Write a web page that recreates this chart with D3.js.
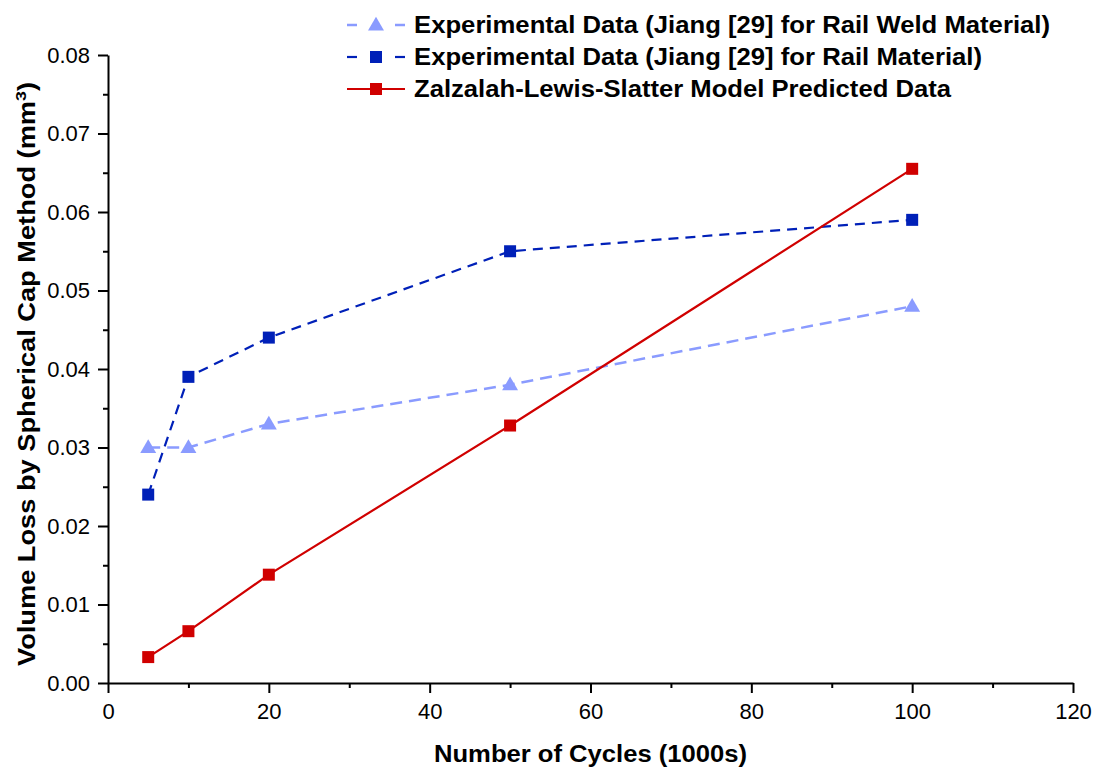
<!DOCTYPE html>
<html>
<head>
<meta charset="utf-8">
<script src="https://cdn.jsdelivr.net/npm/d3@7"></script>
<style>
  body { margin: 0; background: #fff; }
  text { font-family: "Liberation Sans", Arial, sans-serif; }
</style>
</head>
<body>
<div id="chart"></div>
<script>
const cycles = [5, 10, 20, 50, 100];
const weldLoss = [0.030, 0.030, 0.033, 0.038, 0.048];
const railLoss = [0.024, 0.039, 0.044, 0.055, 0.059];
const modelLoss = [0.0033, 0.0066, 0.0138, 0.0328, 0.0655];
const xTicks = [0, 20, 40, 60, 80, 100, 120];
const yTicks = [0, 0.01, 0.02, 0.03, 0.04, 0.05, 0.06, 0.07, 0.08];

const series = [
  { name: "Experimental Data (Jiang [29] for Rail Weld Material)", values: weldLoss, color: "#8a9bff", dash: "12,7", shape: "triangle", width: 2.5, len: 636 },
  { name: "Experimental Data (Jiang [29] for Rail Material)", values: railLoss, color: "#0020b8", dash: "10,7", shape: "square", width: 2.2, len: 568 },
  { name: "Zalzalah-Lewis-Slatter Model Predicted Data", values: modelLoss, color: "#d00000", dash: null, shape: "square", width: 2.2, len: 537 }
];

const W = 1099, H = 768;
const margin = { top: 55, right: 26, bottom: 85, left: 108 };
const width = W - margin.left - margin.right,
  height = H - margin.top - margin.bottom;

const svg = d3.select("#chart").append("svg")
  .attr("width", W).attr("height", H);

const g = svg.append("g")
  .attr("transform", `translate(${margin.left},${margin.top})`);

const x = d3.scaleLinear().domain([0, 120]).range([0, width]);
const y = d3.scaleLinear().domain([0, 0.08]).range([height, 0]);

// minor ticks
const xMinor = d3.range(10, 120, 20);
const yMinor = d3.range(0.005, 0.08, 0.01);

g.append("g")
  .attr("transform", `translate(0,${height})`)
  .call(d3.axisBottom(x).tickValues(xMinor).tickSize(5).tickFormat(""))
  .call(a => a.select(".domain").remove())
  .selectAll("line").attr("stroke-width", 2);

g.append("g")
  .call(d3.axisLeft(y).tickValues(yMinor).tickSize(5).tickFormat(""))
  .call(a => a.select(".domain").remove())
  .selectAll("line").attr("stroke-width", 2);

const xAxis = g.append("g")
  .attr("transform", `translate(0,${height})`)
  .call(d3.axisBottom(x).tickValues(xTicks).tickSize(10).tickSizeOuter(0).tickPadding(10));
xAxis.select(".domain").attr("stroke-width", 2);
xAxis.selectAll("line").attr("stroke-width", 2);
xAxis.selectAll("text").style("font-size", "22px").attr("fill", "#000");

const yAxis = g.append("g")
  .call(d3.axisLeft(y).tickValues(yTicks).tickSize(10).tickSizeOuter(0).tickPadding(8).tickFormat(d3.format(".2f")));
yAxis.select(".domain").attr("stroke-width", 2);
yAxis.selectAll("line").attr("stroke-width", 2);
yAxis.selectAll("text").style("font-size", "22px").attr("fill", "#000");

// axis titles
g.append("text")
  .attr("x", x(60))
  .attr("y", height + 79)
  .attr("text-anchor", "middle")
  .attr("textLength", 313)
  .attr("lengthAdjust", "spacingAndGlyphs")
  .style("font-size", "23px")
  .style("font-weight", "bold")
  .text("Number of Cycles (1000s)");

const yt = g.append("text")
  .attr("transform", `translate(${-73},${height / 2 + 5}) rotate(-90)`)
  .attr("text-anchor", "middle")
  .attr("textLength", 584)
  .attr("lengthAdjust", "spacingAndGlyphs")
  .style("font-size", "23px")
  .style("font-weight", "bold");
yt.append("tspan").text("Volume Loss by Spherical Cap Method (mm");
yt.append("tspan").attr("dy", -9).style("font-size", "15px").text("3");
yt.append("tspan").attr("dy", 9).text(")");

const line = d3.line().x((d, i) => x(cycles[i])).y(d => y(d));

function drawMarker(sel, shape, color, cx, cy) {
  if (shape === "square") {
    sel.append("rect")
      .attr("x", cx - 6).attr("y", cy - 6)
      .attr("width", 12).attr("height", 12)
      .attr("fill", color);
  } else {
    sel.append("path")
      .attr("d", d3.symbol().type(d3.symbolTriangle).size(110)())
      .attr("transform", `translate(${cx},${cy + 1})`)
      .attr("fill", color);
  }
}

series.forEach(s => {
  g.append("path")
    .datum(s.values)
    .attr("fill", "none")
    .attr("stroke", s.color)
    .attr("stroke-width", s.width)
    .attr("stroke-dasharray", s.dash)
    .attr("d", line);
  const mg = g.append("g");
  s.values.forEach((v, i) => drawMarker(mg, s.shape, s.color, x(cycles[i]), y(v)));
});

// legend
const legend = svg.append("g").attr("transform", "translate(347,25)");
series.forEach((s, i) => {
  const row = legend.append("g").attr("transform", `translate(0,${i * 32})`);
  if (s.dash) {
    row.append("line").attr("x1", 0).attr("x2", 10).attr("y1", 0).attr("y2", 0)
      .attr("stroke", s.color).attr("stroke-width", s.width);
    row.append("line").attr("x1", 48).attr("x2", 58).attr("y1", 0).attr("y2", 0)
      .attr("stroke", s.color).attr("stroke-width", s.width);
  } else {
    row.append("line").attr("x1", 0).attr("x2", 58).attr("y1", 0).attr("y2", 0)
      .attr("stroke", s.color).attr("stroke-width", s.width);
  }
  drawMarker(row, s.shape, s.color, 29, 0);
  row.append("text")
    .attr("x", 67).attr("y", 8)
    .attr("textLength", s.len)
    .attr("lengthAdjust", "spacingAndGlyphs")
    .style("font-size", "23px")
    .style("font-weight", "bold")
    .text(s.name);
});
</script>
</body>
</html>
